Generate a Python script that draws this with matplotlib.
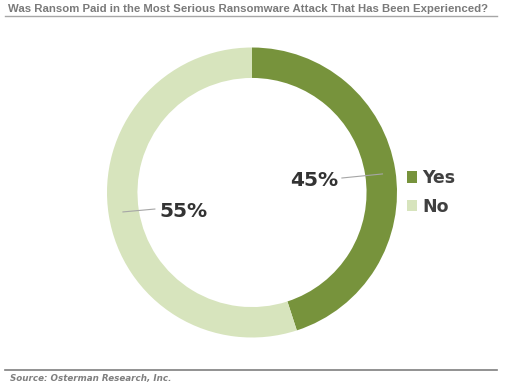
import matplotlib
matplotlib.use("Agg")
import matplotlib.pyplot as plt

# data
labels = ["Yes", "No"]
values = [45, 55]
colors = ["#77933c", "#d7e4bd"]
title = "Was Ransom Paid in the Most Serious Ransomware Attack That Has Been Experienced?"
source = "Source: Osterman Research, Inc."

W, H = 512, 388
fig = plt.figure(figsize=(W / 100, H / 100), dpi=100)
fig.patch.set_facecolor("white")


def fit_width(txt, target_px):
    # shrink/grow font so the text spans the same width as in the reference
    r = fig.canvas.get_renderer()
    w = txt.get_window_extent(r).width
    txt.set_fontsize(txt.get_fontsize() * target_px / w)


# title and rules
t1 = fig.text(8 / W, 1 - 9 / H, title, fontsize=8.5, fontweight="bold",
              color="#7a7a7a", ha="left", va="center", family="Liberation Sans")
fit_width(t1, 476)
fig.add_artist(plt.Line2D([5 / W, 497 / W], [1 - 16 / H, 1 - 16 / H],
                          color="#a6a6a6", lw=1))
fig.add_artist(plt.Line2D([5 / W, 497 / W], [1 - 370 / H, 1 - 370 / H],
                          color="#7f7f7f", lw=1.2))
t2 = fig.text(10 / W, 1 - 378 / H, source, fontsize=7.5, fontweight="bold",
              style="italic", color="#7f7f7f", ha="left", va="center",
              family="DejaVu Sans")
fit_width(t2, 161)

# donut
ax = fig.add_axes([107 / W, 1 - 337.5 / H, 290 / W, 290 / H])
wedges, _ = ax.pie(values, colors=colors, startangle=90, counterclock=False,
                   radius=1, wedgeprops=dict(width=0.21, linewidth=0))
ax.set_xlim(-1, 1)
ax.set_ylim(-1, 1)
ax.set_aspect("equal")
ax.axis("off")

# data labels with leader lines
ax.plot([0.62, 0.90], [0.10, 0.128], color="#a6a6a6", lw=0.8)
ax.text(0.43, 0.086, f"{values[0]}%", fontsize=14.5, fontweight="bold",
        color="#333333", ha="center", va="center")
ax.plot([-0.89, -0.67], [-0.134, -0.114], color="#a6a6a6", lw=0.8)
ax.text(-0.47, -0.134, f"{values[1]}%", fontsize=14.5, fontweight="bold",
        color="#333333", ha="center", va="center")

# legend
leg = ax.legend(wedges, labels, loc="center left", bbox_to_anchor=(1.034, 0.5),
                frameon=False, handlelength=0.6, handleheight=0.6,
                handletextpad=0.3, labelspacing=0.62, borderpad=0,
                borderaxespad=0, prop=dict(weight="bold", size=12.5))
for t in leg.get_texts():
    t.set_color("#404040")

fig.savefig("out.png", dpi=100)
